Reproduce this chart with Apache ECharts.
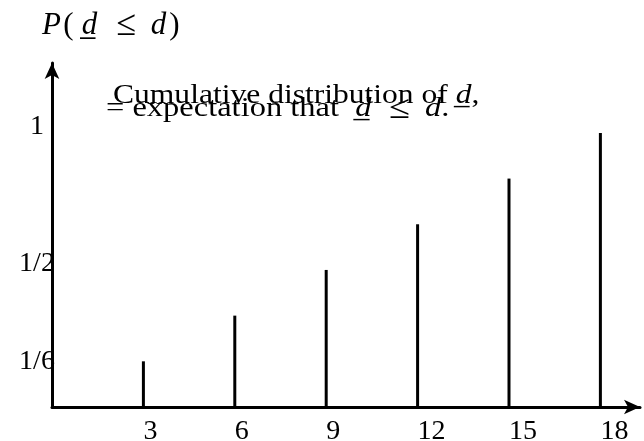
<!DOCTYPE html>
<html>
<head>
<meta charset="utf-8">
<script src="https://cdn.jsdelivr.net/npm/echarts@6/dist/echarts.min.js"></script>
<style>
  html, body { margin: 0; padding: 0; background: #fff; }
  #chart { width: 644px; height: 441px; }
</style>
</head>
<body>
<div id="chart"></div>
<script>
// Possible values of d and the cumulative probability P(d <= d) at each
const sums = [3, 6, 9, 12, 15, 18];
const cumulative = [1/6, 2/6, 3/6, 4/6, 5/6, 6/6];

// Axis labels
const xTicks = [3, 6, 9, 12, 15, 18];
const yTickValues = [1/6, 1/2, 1];
const yTickLabels = ['1/6', '1/2', '1'];

const serif = '"Liberation Serif", "Times New Roman", serif';

const chart = echarts.init(document.getElementById('chart'), null, { renderer: 'canvas' });

const axisLine = {
  show: true,
  symbol: ['none', 'arrow'],
  symbolSize: [11, 16],
  lineStyle: { color: '#000', width: 3 }
};

// Typeset a line as a row of fixed-width boxes, each holding one glyph group
// centred in it: [text, boxWidth, italic, fontSize]
function typeset(words, size) {
  const rich = {};
  const parts = words.map(([txt, w, italic, fs], k) => {
    const key = 'w' + k;
    rich[key] = {
      fontFamily: serif,
      fontStyle: italic ? 'italic' : 'normal',
      fontSize: fs || size,
      fill: '#000',
      width: w,
      align: 'center'
    };
    return '{' + key + '|' + txt + '}';
  });
  return { text: parts.join(''), rich: rich };
}

// Styles for running text mixed with math: roman, italic, relation symbol
function textRich(size, relSize) {
  return {
    r: { fontFamily: serif, fontSize: size, fill: '#000' },
    i: { fontFamily: serif, fontStyle: 'italic', fontSize: size, fill: '#000' },
    id: { fontFamily: serif, fontStyle: 'italic', fontSize: size, fill: '#000', padding: [0, 0, 0, 14] },
    s: { fontFamily: serif, fontSize: relSize, fill: '#000', padding: [0, 13, 0, 15] }
  };
}

const yLabelRich = {
  hi: { fontFamily: serif, fontSize: 28, color: '#000', padding: [0, 0, 12, 0] },
  lo: { fontFamily: serif, fontSize: 28, color: '#000', padding: [0, 0, 0, 0] }
};

chart.setOption({
  animation: false,
  backgroundColor: '#fff',
  grid: {
    left: 52, right: 4, top: 63, bottom: 34,
    containLabel: false,
    outerBoundsMode: 'none'
  },
  xAxis: {
    type: 'value',
    min: 0,
    max: 19.3,
    interval: 3,
    axisLine: axisLine,
    axisTick: { show: false },
    splitLine: { show: false },
    axisLabel: {
      color: '#000',
      fontFamily: serif,
      fontSize: 28,
      align: 'left',
      margin: 11,
      formatter: v => (xTicks.indexOf(v) >= 0 ? String(v) : '')
    }
  },
  yAxis: {
    type: 'value',
    min: 0,
    max: 1.255,
    interval: 1/6,
    axisLine: axisLine,
    axisTick: { show: false },
    splitLine: { show: false },
    axisLabel: {
      color: '#000',
      fontFamily: serif,
      fontSize: 28,
      align: 'center',
      margin: 15,
      rich: yLabelRich,
      formatter: v => {
        const i = yTickValues.findIndex(t => Math.abs(t - v) < 1e-6);
        if (i < 0) return '';
        return '{' + (yTickLabels[i] === '1/6' ? 'lo' : 'hi') + '|' + yTickLabels[i] + '}';
      }
    }
  },
  series: [{
    type: 'bar',
    barWidth: 3,
    itemStyle: { color: '#000' },
    data: sums.map((s, i) => [s, cumulative[i]])
  }],
  graphic: [
    {
      type: 'text',
      left: 42,
      top: 8,
      style: typeset([
        ['P', 24, true], ['(', 10, false], ['d\u0332', 32, true],
        ['\u2264', 42, false, 36], ['d', 22, true], [')', 10, false]
      ], 31)
    },
    {
      type: 'text',
      x: 113,
      y: 96,
      scaleX: 1.127,
      style: {
        text: '{r|Cumulative distribution of }{i|d\u0332}{r|,}',
        rich: textRich(28, 28),
        align: 'left',
        verticalAlign: 'middle'
      }
    },
    {
      type: 'text',
      x: 106,
      y: 109,
      scaleX: 1.16,
      style: {
        text: '{r|= expectation that}{id|d\u0332}{s|\u2264}{i|d}{r|.}',
        rich: textRich(28, 33),
        align: 'left',
        verticalAlign: 'middle'
      }
    }
  ]
});
</script>
</body>
</html>
